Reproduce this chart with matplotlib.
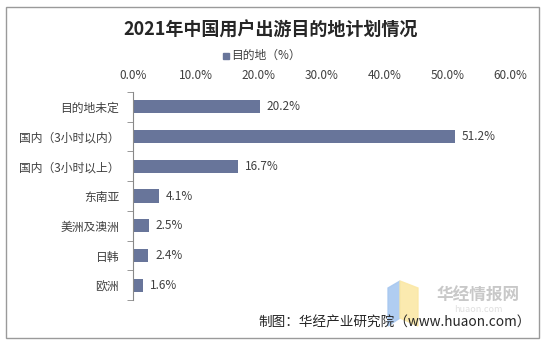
import numpy as np
import matplotlib.pyplot as plt
from matplotlib.patches import Rectangle, Polygon

plt.rcParams['font.family'] = ['Noto Sans CJK SC', 'DejaVu Sans']

# data
categories = ["目的地未定", "国内（3小时以内）", "国内（3小时以上）", "东南亚",
              "美洲及澳洲", "日韩", "欧洲"]
values = [20.2, 51.2, 16.7, 4.1, 2.5, 2.4, 1.6]
xticks = [0, 10, 20, 30, 40, 50, 60]

bar_color = "#68759a"
text_color = "#404040"

fig = plt.figure(figsize=(5.45, 3.45), dpi=100)

# outer frame
fig.patches.append(Rectangle((6 / 545, 7 / 345), 533 / 545, 331 / 345,
                             transform=fig.transFigure, fill=False,
                             edgecolor="#9a9a9a", linewidth=1))

ax = fig.add_axes([133 / 545, 1 - 300 / 345, 377 / 545, 208 / 345])
y = np.arange(len(categories))
ax.barh(y, values, height=0.44, color=bar_color)
for yi, v in zip(y, values):
    ax.text(v + 1.1, yi, "%.1f%%" % v, va="center", ha="left",
            fontsize=8.5, color=text_color)

ax.set_xlim(0, 60)
ax.set_ylim(len(categories) - 0.5, -0.5)
ax.xaxis.tick_top()
ax.set_xticks(xticks)
ax.set_xticklabels(["%.1f%%" % t for t in xticks], fontsize=8.5, color=text_color)
ax.tick_params(axis="x", length=0, pad=7)
ax.set_yticks(y)
ax.set_yticklabels(categories, fontsize=8.5, color=text_color)
ax.set_yticks(np.arange(-0.5, len(categories)), minor=True)
ax.tick_params(axis="y", which="major", length=0, pad=10)
ax.tick_params(axis="y", which="minor", length=4, color="#888888")
for s in ["top", "right", "bottom"]:
    ax.spines[s].set_visible(False)
ax.spines["left"].set_color("#888888")

# title and legend
fig.text(0.496, 1 - 30 / 345, "2021年中国用户出游目的地计划情况", ha="center", va="center",
         fontsize=13, fontweight="bold", color="#262626")
fig.patches.append(Rectangle((223 / 545, 1 - 59 / 345), 6 / 545, 6 / 345,
                             transform=fig.transFigure, color=bar_color))
fig.text(231 / 545, 1 - 55 / 345, "目的地（%）", ha="left", va="center",
         fontsize=8.5, color=text_color)

# watermark
fig.patches.append(Polygon([(388 / 545, 1 - 288 / 345), (400 / 545, 1 - 281 / 345),
                            (400 / 545, 1 - 318 / 345), (388 / 545, 1 - 326 / 345)],
                           closed=True, transform=fig.transFigure,
                           color="#a8c8f0", alpha=0.9))
fig.patches.append(Polygon([(400 / 545, 1 - 281 / 345), (418 / 545, 1 - 288 / 345),
                            (418 / 545, 1 - 326 / 345), (400 / 545, 1 - 318 / 345)],
                           closed=True, transform=fig.transFigure,
                           color="#fbe8a6", alpha=0.9))
fig.text(478 / 545, 1 - 296 / 345, "华经情报网", ha="center", va="center",
         fontsize=12, fontweight="bold", color="#c8c8c8")
fig.text(478 / 545, 1 - 310 / 345, "huaon.com", ha="center", va="center",
         fontsize=6.5, color="#e0e0e0")

fig.text(531 / 545, 1 - 323 / 345, "制图：华经产业研究院（www.huaon.com）",
         ha="right", va="center", fontsize=9.8, color="#262626")

fig.savefig("out.png", dpi=100)
